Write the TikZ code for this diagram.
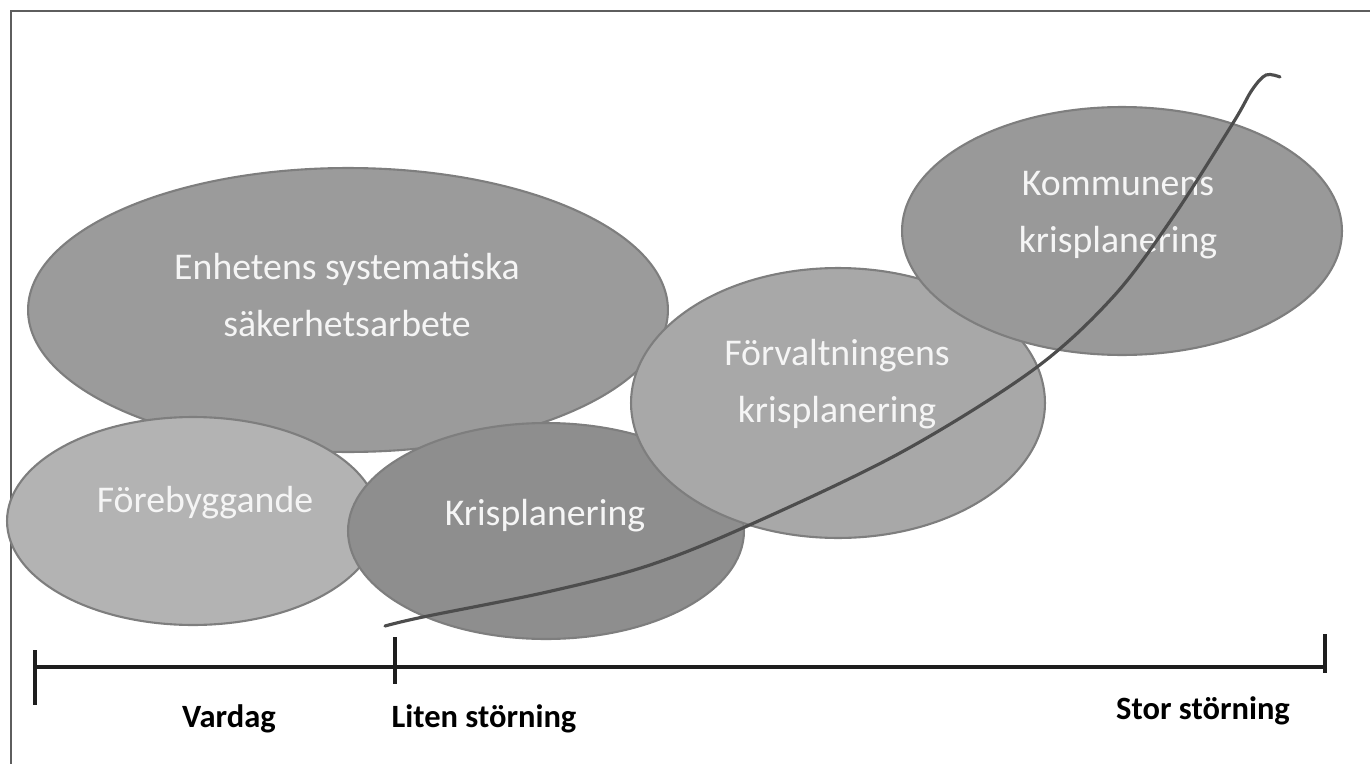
\documentclass[tikz,border=0pt]{standalone}
\usepackage{fontspec}
\setmainfont{Carlito}
\usepackage{tikz}
\usetikzlibrary{shapes.geometric}
\definecolor{framegray}{HTML}{5E5E5E}
\definecolor{blobline}{HTML}{7E7E7E}
\definecolor{enhetgray}{HTML}{9B9B9B}
\definecolor{foregray}{HTML}{B3B3B3}
\definecolor{krisgray}{HTML}{8E8E8E}
\definecolor{forvgray}{HTML}{A8A8A8}
\definecolor{kommgray}{HTML}{999999}
\definecolor{curvegray}{HTML}{4D4D4D}
\definecolor{axisblack}{HTML}{1E1E1E}
\tikzset{
  blob/.style = {draw=blobline, line width=1.2pt, ellipse, inner sep=0pt},
  blobtext/.style = {text=white!96!black, font=\fontsize{21.5}{32.4}\selectfont, align=center},
  axislabel/.style = {font=\fontsize{18.5}{22}\selectfont\bfseries, anchor=base},
  axisline/.style = {draw=axisblack, line width=2.8pt},
  ticklet/.style = {draw=axisblack, line width=1.8pt}
}

\begin{document}
\begin{tikzpicture}[x=0.02cm, y=-0.02cm]
    \useasboundingbox (0,0) rectangle (1370,764);

    % Frame (top and left only)
    \draw [framegray, line width=1.2pt] (11,764) -- (11,11) -- (1370,11);

    % Place the ellipses, back to front
    \node [blob, fill=enhetgray, minimum width=12.8cm, minimum height=5.68cm] (enhet) at (348,310) {};
    \node [blob, fill=foregray, minimum width=7.44cm, minimum height=4.16cm] (forebygg) at (193,521) {};
    \node [blob, fill=krisgray, minimum width=7.92cm, minimum height=4.32cm] (kris) at (546,531) {};
    \node [blob, fill=forvgray, minimum width=8.28cm, minimum height=5.4cm] (forvalt) at (838,403) {};
    \node [blob, fill=kommgray, minimum width=8.8cm, minimum height=4.96cm] (kommun) at (1122,231) {};

    % Texts in the ellipses
    \node [blobtext] (enhet-txt) at (347,295) {Enhetens systematiska\\säkerhetsarbete};
    \node [blobtext, anchor=base] (forebygg-txt) at (205,512) {Förebyggande};
    \node [blobtext, anchor=base] (kris-txt) at (545,525) {Krisplanering};
    \node [blobtext] (forvalt-txt) at (837,384) {Förvaltningens\\krisplanering};
    \node [blobtext] (kommun-txt) at (1118,215) {Kommunens\\krisplanering};

    % The rising curve, drawn over the ellipses
    \draw [curvegray, line width=1.8pt, line cap=round] plot [smooth, tension=0.55] coordinates {
        (385,626) (423,617) (547,592) (647,566) (745,527) (900,453) (1033,370)
        (1113,297) (1173,217) (1233,123) (1252,90) (1266,75) (1280,77)};

    % Time axis with ticks
    \coordinate (axis-l) at (35,667);
    \coordinate (axis-r) at (1325,667);
    \draw [axisline] (axis-l) -- (axis-r);
    \draw [ticklet] (35,650) -- (35,705);
    \draw [ticklet] (395,637) -- (395,684);
    \draw [ticklet] (1325,634) -- (1325,673);

    % Axis labels
    \node [axislabel] (vardag) at (229,727) {Vardag};
    \node [axislabel] (liten) at (484,727) {Liten störning};
    \node [axislabel] (stor) at (1203,719) {Stor störning};

\end{tikzpicture}
\end{document}
